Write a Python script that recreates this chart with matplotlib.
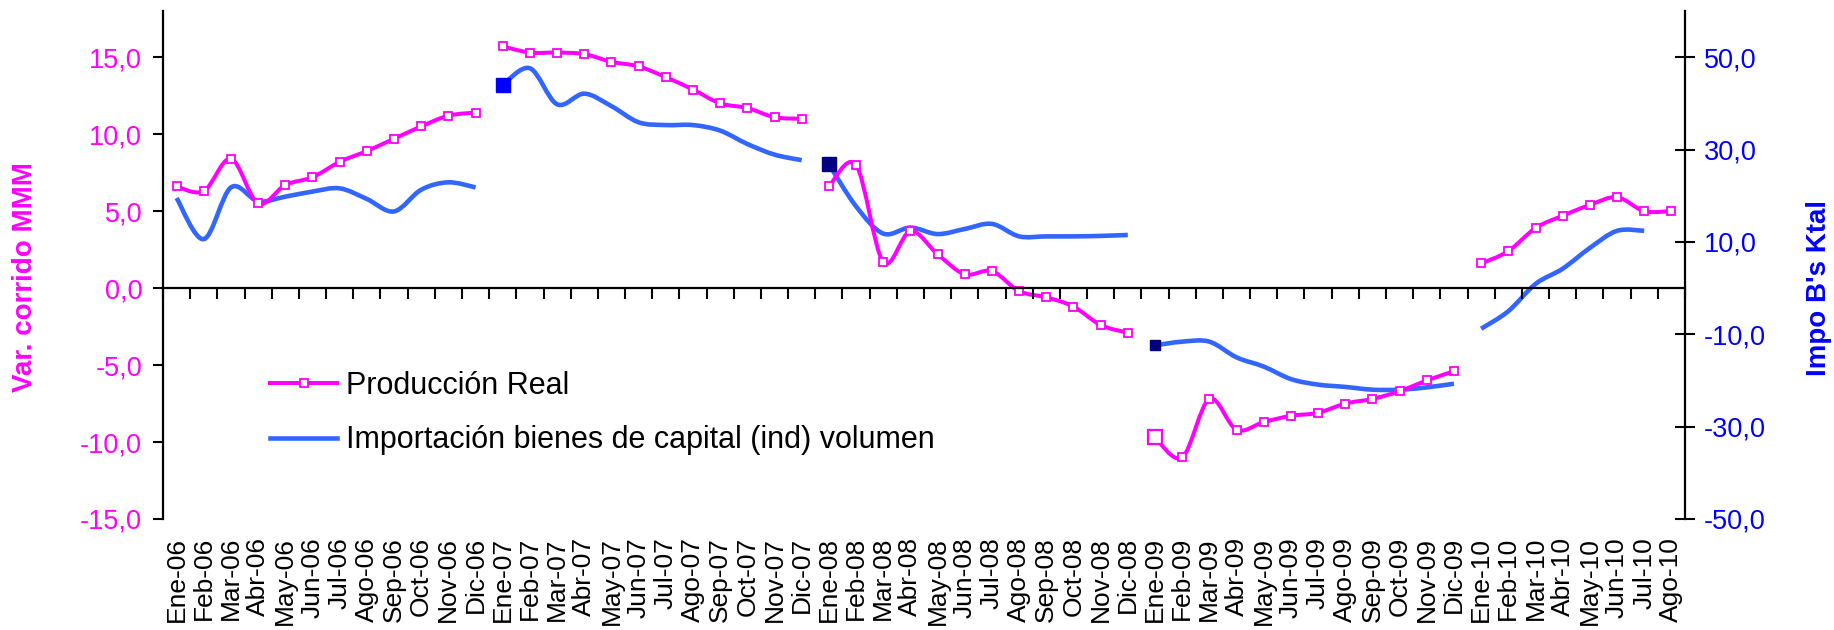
import numpy as np
import matplotlib
matplotlib.use("Agg")
import matplotlib.pyplot as plt
from matplotlib.lines import Line2D
from matplotlib.patches import PathPatch
from matplotlib.path import Path

plt.rcParams["font.family"] = ["Liberation Sans", "DejaVu Sans"]

MAGENTA = "#ff00ff"
LINE_BLUE = "#3366ff"
AXIS_BLUE = "#0000ff"
NAVY = "#000080"

# monthly categories, Ene-06 .. Ago-10
month_names = ["Ene", "Feb", "Mar", "Abr", "May", "Jun",
               "Jul", "Ago", "Sep", "Oct", "Nov", "Dic"]
years = ["06", "07", "08", "09", "10"]
months = [f"{m}-{y}" for y in years for m in month_names][:56]

# Producción Real, var. corrido (left axis)
prod_2006 = [6.6, 6.3, 8.4, 5.5, 6.7, 7.2, 8.2, 8.9, 9.7, 10.5, 11.2, 11.4]
prod_2007 = [15.7, 15.3, 15.3, 15.2, 14.7, 14.4, 13.7, 12.9, 12.0, 11.7, 11.1, 11.0]
prod_2008 = [6.6, 8.0, 1.7, 3.7, 2.2, 0.9, 1.1, -0.2, -0.6, -1.2, -2.4, -2.9]
prod_2009 = [-9.7, -11.0, -7.2, -9.2, -8.7, -8.3, -8.1, -7.5, -7.2, -6.7, -6.0, -5.4]
prod_2010 = [1.6, 2.4, 3.9, 4.7, 5.4, 5.9, 5.0, 5.0]

# Importación bienes de capital (ind) volumen (right axis)
impo_2006 = [19.5, 10.6, 21.8, 18.8, 19.8, 20.9, 21.6, 19.3, 16.6, 21.3, 22.9, 21.8]
impo_2007 = [44.0, 47.6, 39.8, 42.1, 39.4, 35.9, 35.3, 35.3, 34.1, 31.2, 28.9, 27.7]
impo_2008 = [26.8, 17.7, 11.8, 13.1, 11.7, 12.8, 13.9, 11.2, 11.2, 11.2, 11.3, 11.5]
impo_2009 = [-12.4, -11.6, -11.6, -15.0, -17.0, -19.7, -20.9, -21.4, -22.0, -22.0, -21.5, -20.7]
impo_2010 = [-8.8, -5.0, 0.9, 4.2, 8.7, 12.4, 12.4]

prod_years = [prod_2006, prod_2007, prod_2008, prod_2009, prod_2010]
impo_years = [impo_2006, impo_2007, impo_2008, impo_2009, impo_2010]

left_ticks = [-15, -10, -5, 0, 5, 10, 15]
right_ticks = [-50, -30, -10, 10, 30, 50]
left_lim = (-15, 18)
right_lim = (-50, 60)


def smooth_path(xs, ys):
    """Cubic Bezier through the points (Catmull-Rom control points)."""
    pts = np.column_stack([xs, ys]).astype(float)
    n = len(pts)
    verts = [pts[0]]
    codes = [Path.MOVETO]
    for i in range(n - 1):
        p0 = pts[i - 1] if i > 0 else pts[i]
        p1, p2 = pts[i], pts[i + 1]
        p3 = pts[i + 2] if i + 2 < n else pts[i + 1]
        verts += [p1 + (p2 - p0) / 6, p2 - (p3 - p1) / 6, p2]
        codes += [Path.CURVE4] * 3
    return Path(verts, codes)


def fmt(v):
    return f"{v:.1f}".replace(".", ",")


fig = plt.figure(figsize=(18.34, 6.30), dpi=100)
ax = fig.add_axes([163 / 1834, 111 / 630, 1522 / 1834, 508 / 630])
ax2 = ax.twinx()
ax.set_zorder(ax2.get_zorder() + 1)
ax.patch.set_visible(False)

seg_start = 0
for prod_y, impo_y in zip(prod_years, impo_years):
    xp = np.arange(seg_start, seg_start + len(prod_y))
    xi = np.arange(seg_start, seg_start + len(impo_y))
    ax2.add_patch(PathPatch(smooth_path(xi, impo_y), facecolor="none",
                            edgecolor=LINE_BLUE, lw=3.3, capstyle="butt"))
    ax.add_patch(PathPatch(smooth_path(xp, prod_y), facecolor="none",
                           edgecolor=MAGENTA, lw=2.9, capstyle="butt"))
    ax.plot(xp, prod_y, ls="none", marker="s", ms=5.8, mfc="white",
            mec=MAGENTA, mew=1.3)
    seg_start += 12

# highlighted first points of some years
ax2.plot(12, impo_2007[0], marker="s", ms=10.5, color=AXIS_BLUE, ls="none")
ax2.plot(24, impo_2008[0], marker="s", ms=10.5, color=NAVY, ls="none")
ax2.plot(36, impo_2009[0], marker="s", ms=7.0, color=NAVY, ls="none")
ax.plot(36, prod_2009[0], marker="s", ms=10.0, mfc="white", mec=MAGENTA,
        mew=1.6, ls="none")

n = len(months)
ax.set_xlim(-0.5, n - 0.5)
ax.set_ylim(*left_lim)
ax2.set_ylim(*right_lim)

# category axis crossing at zero, ticks between months
ax.spines["bottom"].set_position(("data", 0))
ax.spines["bottom"].set_linewidth(1.6)
ax.set_xticks(np.arange(n + 1) - 0.5)
ax.tick_params(axis="x", labelbottom=False, direction="out", length=8, width=1.5)

sec = ax.secondary_xaxis("bottom")
sec.set_xticks(np.arange(n), labels=months, rotation=90)
sec.tick_params(length=0, pad=13, labelsize=19)
sec.spines["bottom"].set_visible(False)

for a in (ax, ax2):
    a.spines["top"].set_visible(False)
ax.spines["right"].set_visible(False)
ax2.spines["left"].set_visible(False)
ax2.spines["bottom"].set_visible(False)
ax.spines["left"].set_linewidth(1.6)
ax2.spines["right"].set_linewidth(1.6)

ax.set_yticks(left_ticks, labels=[fmt(v) for v in left_ticks])
ax.tick_params(axis="y", direction="out", length=7, width=1.5, pad=8,
               labelsize=19.5, labelcolor=MAGENTA)
ax2.set_yticks(right_ticks, labels=[fmt(v) for v in right_ticks])
ax2.tick_params(axis="y", direction="inout", length=15, width=1.5, pad=6,
                labelsize=19.5, labelcolor=AXIS_BLUE)

ax.set_ylabel("Var. corrido MMM", color=MAGENTA, fontsize=20, fontweight="bold")
ax.yaxis.set_label_coords(-0.082, 0.476)
ax2.set_ylabel("Impo B's Ktal", color=AXIS_BLUE, fontsize=20, fontweight="bold")
ax2.yaxis.set_label_coords(1.0795, 0.455)

handles = [
    Line2D([0], [0], color=MAGENTA, lw=2.9, marker="s", ms=5.8, mfc="white",
           mec=MAGENTA, mew=1.3, label="Producción Real"),
    Line2D([0], [0], color=LINE_BLUE, lw=3.3,
           label="Importación bienes de capital (ind) volumen"),
]
ax.legend(handles=handles, loc="center left",
          bbox_to_anchor=(270 / 1834, 1 - 413 / 630),
          bbox_transform=fig.transFigure, frameon=False, fontsize=22,
          handlelength=2.2, handletextpad=0.3, labelspacing=0.8,
          borderpad=0, borderaxespad=0)

fig.savefig("out.png", dpi=100)
